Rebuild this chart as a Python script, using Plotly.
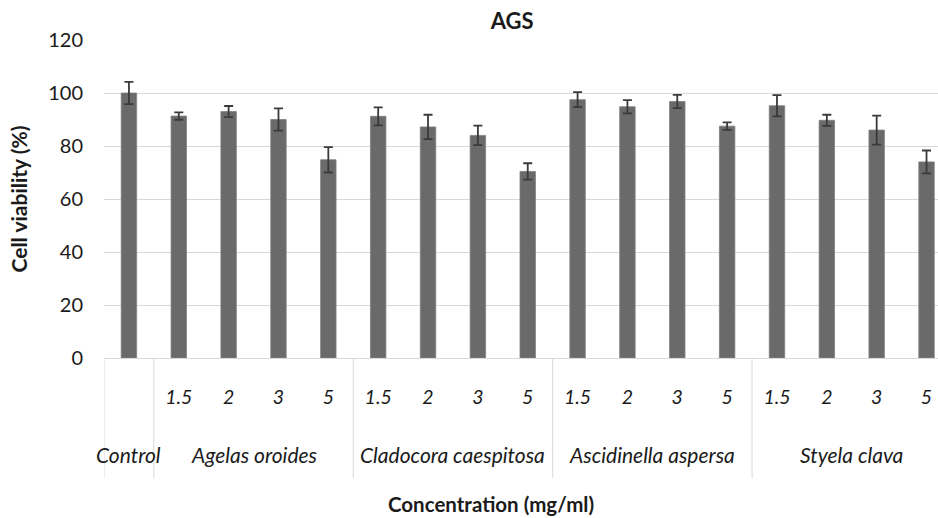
import plotly.graph_objects as go

groups = ["Control", "Agelas oroides", "Cladocora caespitosa", "Ascidinella aspersa", "Styela clava"]
group_sizes = [1, 4, 4, 4, 4]
conc_labels = ["", "1.5", "2", "3", "5", "1.5", "2", "3", "5",
               "1.5", "2", "3", "5", "1.5", "2", "3", "5"]
viability = [100, 91.3, 93.0, 90.0, 74.8,
             91.2, 87.2, 84.0, 70.4,
             97.5, 94.8, 96.8, 87.5,
             95.2, 89.7, 86.0, 74.0]
errors = [4.2, 1.4, 2.1, 4.2, 4.8,
          3.4, 4.6, 3.7, 3.1,
          2.8, 2.5, 2.5, 1.4,
          4.0, 2.1, 5.5, 4.3]

xpos = list(range(len(viability)))

font_family = "Lato, Carlito, Calibri, sans-serif"

fig = go.Figure()
fig.add_trace(go.Bar(
    x=xpos, y=viability,
    width=0.31,
    marker=dict(color="#6a6a6a", line=dict(color="#808080", width=0.8)),
    error_y=dict(type="data", array=errors, visible=True,
                 color="#3a3a3a", thickness=1.8, width=4.5),
    showlegend=False,
))

# group boundaries and centres
bounds = [-0.5]
centers = []
start = 0
for n in group_sizes:
    centers.append(start + (n - 1) / 2)
    start += n
    bounds.append(start - 0.5)

shapes = []
for b in bounds:
    shapes.append(dict(type="line", xref="x", yref="paper", x0=b, x1=b,
                       y0=0, y1=-0.378, line=dict(color="#d9d9d9", width=1)))

annotations = []
for g, c in zip(groups, centers):
    annotations.append(dict(x=c, y=-0.302, xref="x", yref="paper",
                            text="<i>" + g + "</i>", showarrow=False,
                            font=dict(family=font_family, size=21, color="#1a1a1a"),
                            xanchor="center", yanchor="middle"))
annotations.append(dict(x=0.464, y=-0.458, xref="paper", yref="paper",
                        text="<b>Concentration (mg/ml)</b>", showarrow=False,
                        font=dict(family=font_family, size=20.5, color="#1a1a1a"),
                        xanchor="center", yanchor="middle"))

fig.update_layout(
    width=938, height=518,
    margin=dict(l=104, r=0, t=40, b=160, autoexpand=False),
    paper_bgcolor="white", plot_bgcolor="white",
    title=dict(text="<b>AGS</b>", x=0.546, xanchor="center", y=0.958, yanchor="middle",
               font=dict(family=font_family, size=22, color="#1a1a1a"), automargin=False),
    shapes=shapes,
    annotations=annotations,
)
fig.update_xaxes(
    range=[-0.5, 16.23], automargin=False,
    tickmode="array", tickvals=xpos,
    ticktext=["<i>" + t + "</i>" for t in conc_labels],
    tickfont=dict(family=font_family, size=19.5, color="#1a1a1a"),
    ticks="", ticklabelstandoff=22,
    showgrid=False, showline=True, linecolor="#d9d9d9", linewidth=1,
    zeroline=False,
)
fig.update_yaxes(
    range=[0, 120], dtick=20, automargin=False,
    tickfont=dict(family=font_family, size=20, color="#1a1a1a"),
    showgrid=True, gridcolor="#d9d9d9", gridwidth=1,
    zeroline=False, showline=False, ticks="", ticklabelstandoff=20,
    title=dict(text="<b>Cell viability (%)</b>",
               font=dict(family=font_family, size=21, color="#1a1a1a"), standoff=14),
)

fig.write_html("out.html", config={"displayModeBar": False},
               post_script="document.body.style.margin='0';document.body.style.overflow='hidden';")
